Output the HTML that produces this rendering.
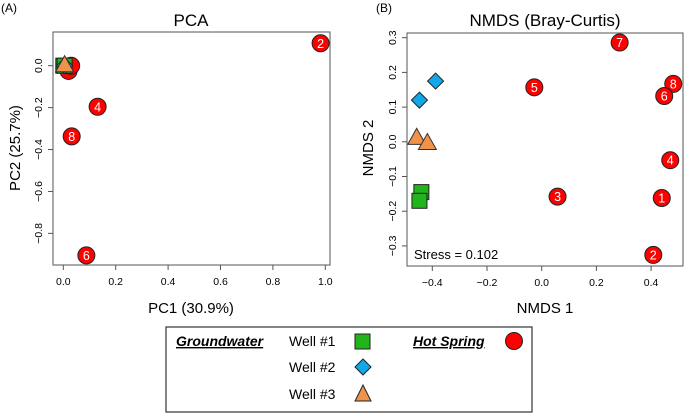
<!DOCTYPE html>
<html><head><meta charset="utf-8"><style>
body{margin:0;background:#fff}
svg{display:block;font-family:"Liberation Sans",sans-serif}
</style></head><body>
<svg id="fig" width="685" height="413" viewBox="0 0 685 413">
<text x="1" y="12" font-size="12">(A)</text>
<text x="376" y="12" font-size="12">(B)</text>
<text x="191" y="26" font-size="17" text-anchor="middle">PCA</text>
<text x="545" y="26" font-size="17" text-anchor="middle">NMDS (Bray-Curtis)</text>
<rect x="53" y="32" width="277" height="233" fill="none" stroke="#555"/>
<rect x="407" y="33" width="276" height="233" fill="none" stroke="#555"/>
<text x="191" y="313" font-size="15" text-anchor="middle">PC1 (30.9%)</text>
<text x="545" y="313" font-size="15" text-anchor="middle">NMDS 1</text>
<text transform="translate(20,148) rotate(-90)" font-size="15" text-anchor="middle">PC2 (25.7%)</text>
<text transform="translate(373,148) rotate(-90)" font-size="15" text-anchor="middle">NMDS 2</text>
<text x="414" y="259" font-size="13">Stress = 0.102</text>
<g id="axesA"></g><g id="axesB"></g><g id="marksA"></g><g id="marksB"></g>
<g>
<rect x="166" y="327" width="366" height="85" fill="none" stroke="#333" stroke-width="1.2"/>
<text x="176" y="346" font-size="14" font-weight="bold" font-style="italic" text-decoration="underline">Groundwater</text>
<text x="289" y="346" font-size="14">Well #1</text>
<rect x="355" y="334" width="15" height="15" fill="#22b41c" stroke="#222"/>
<text x="289" y="372" font-size="14">Well #2</text>
<path d="M363 359 L371 367 L363 375 L355 367Z" fill="#10a8e8" stroke="#222"/>
<text x="289" y="399" font-size="14">Well #3</text>
<path d="M363 385 L371 401 L355 401Z" fill="#f0924a" stroke="#222"/>
<text x="413" y="346" font-size="14" font-weight="bold" font-style="italic" text-decoration="underline">Hot Spring</text>
<circle cx="514" cy="341" r="8.5" fill="#f00" stroke="#222"/>
</g>
</svg>
<script>
const ns="http://www.w3.org/2000/svg";
// PCA data
const pcaXTicks=[0,0.2,0.4,0.6,0.8,1.0];
const pcaYTicks=[0,-0.2,-0.4,-0.6,-0.8];
const pcaSpringIds=["2","4","8","6","",""];
const pcaSpringX=[0.982,0.131,0.032,0.088,0.02,0.03];
const pcaSpringY=[0.107,-0.196,-0.337,-0.905,-0.025,0];
const pcaWell1X=[0,0.005];const pcaWell1Y=[0,0];
const pcaWell2X=[0.005];const pcaWell2Y=[0];
const pcaWell3X=[0.005];const pcaWell3Y=[0];
// NMDS data
const nmdsXTicks=[-0.4,-0.2,0,0.2,0.4];
const nmdsYTicks=[0.3,0.2,0.1,0,-0.1,-0.2,-0.3];
const nmdsSpringIds=["7","5","8","6","4","1","3","2"];
const nmdsSpringX=[0.285,-0.027,0.481,0.448,0.470,0.439,0.058,0.408];
const nmdsSpringY=[0.286,0.157,0.167,0.132,-0.053,-0.162,-0.158,-0.326];
const nmdsWell1X=[-0.44,-0.447];const nmdsWell1Y=[-0.145,-0.17];
const nmdsWell2X=[-0.388,-0.447];const nmdsWell2Y=[0.175,0.12];
const nmdsWell3X=[-0.457,-0.418];const nmdsWell3Y=[0.01,-0.005];

const axA={x:v=>63.3+v*262,y:v=>65.7-v*209.6,box:[53,32,330,265]};
const axB={x:v=>541.7+v*273.5,y:v=>141.8-v*347,box:[407,33,683,266]};

function el(tag,attrs,parent,text){const e=document.createElementNS(ns,tag);for(const k in attrs)e.setAttribute(k,attrs[k]);if(text!==undefined)e.textContent=text;parent.appendChild(e);return e;}
function fmt(v){return v===0?"0.0":(v<0?"\u2212":"")+Math.abs(v).toFixed(1);}
function drawAxes(ax,xt,yt,g){
  const [x0,y0,x1,y1]=ax.box;
  xt.forEach(v=>{const px=ax.x(v);
    const t=el("line",{x1:px,x2:px,y1:y1,y2:y1+5,stroke:"#555"},g);
    
    
    const l=el("text",{x:px,y:y1+20,"font-size":"10.5","text-anchor":"middle"},g,fmt(v));
    
    });
  yt.forEach(v=>{const py=ax.y(v);
    const t=el("line",{x1:x0-5,x2:x0,y1:py,y2:py,stroke:"#555"},g);
    
    
    const l=el("text",{transform:`translate(${x0-11},${py}) rotate(-90)`,"font-size":"10.5","text-anchor":"middle"},g,fmt(v));
    
    });
}
function square(ax,xs,ys,g){xs.forEach((v,i)=>{const s=el("rect",{x:ax.x(v)-7.5,y:ax.y(ys[i])-7.5,width:15,height:15,fill:"#22b41c",stroke:"#222"},g);
  
  });}
function diamond(ax,xs,ys,g){xs.forEach((v,i)=>{const x=ax.x(v),y=ax.y(ys[i]);const s=el("path",{d:`M${x} ${y-8}L${x+8} ${y}L${x} ${y+8}L${x-8} ${y}Z`,fill:"#10a8e8",stroke:"#222"},g);
  
  });}
function tri(ax,xs,ys,g){xs.forEach((v,i)=>{const x=ax.x(v),y=ax.y(ys[i]);const s=el("path",{d:`M${x} ${y-10}L${x+9} ${y+6}L${x-9} ${y+6}Z`,fill:"#f0924a",stroke:"#333"},g);
  
  });}
function spring(ax,xs,ys,ids,g){xs.forEach((v,i)=>{const x=ax.x(v),y=ax.y(ys[i]);
  const c=el("circle",{cx:x,cy:y,r:8.5,fill:"#f00",stroke:"#222"},g);
  
  
  if(ids[i]){const t=el("text",{x:x,y:y+4.5,"font-size":"12.5","text-anchor":"middle",fill:"#fff"},g,ids[i]);
  
  }});}
drawAxes(axA,pcaXTicks,pcaYTicks,document.getElementById("axesA"));
drawAxes(axB,nmdsXTicks,nmdsYTicks,document.getElementById("axesB"));
const mA=document.getElementById("marksA"),mB=document.getElementById("marksB");
spring(axA,pcaSpringX,pcaSpringY,pcaSpringIds,mA);
square(axA,pcaWell1X,pcaWell1Y,mA);diamond(axA,pcaWell2X,pcaWell2Y,mA);tri(axA,pcaWell3X,pcaWell3Y,mA);
square(axB,nmdsWell1X,nmdsWell1Y,mB);diamond(axB,nmdsWell2X,nmdsWell2Y,mB);tri(axB,nmdsWell3X,nmdsWell3Y,mB);
spring(axB,nmdsSpringX,nmdsSpringY,nmdsSpringIds,mB);
</script>
</body></html>
